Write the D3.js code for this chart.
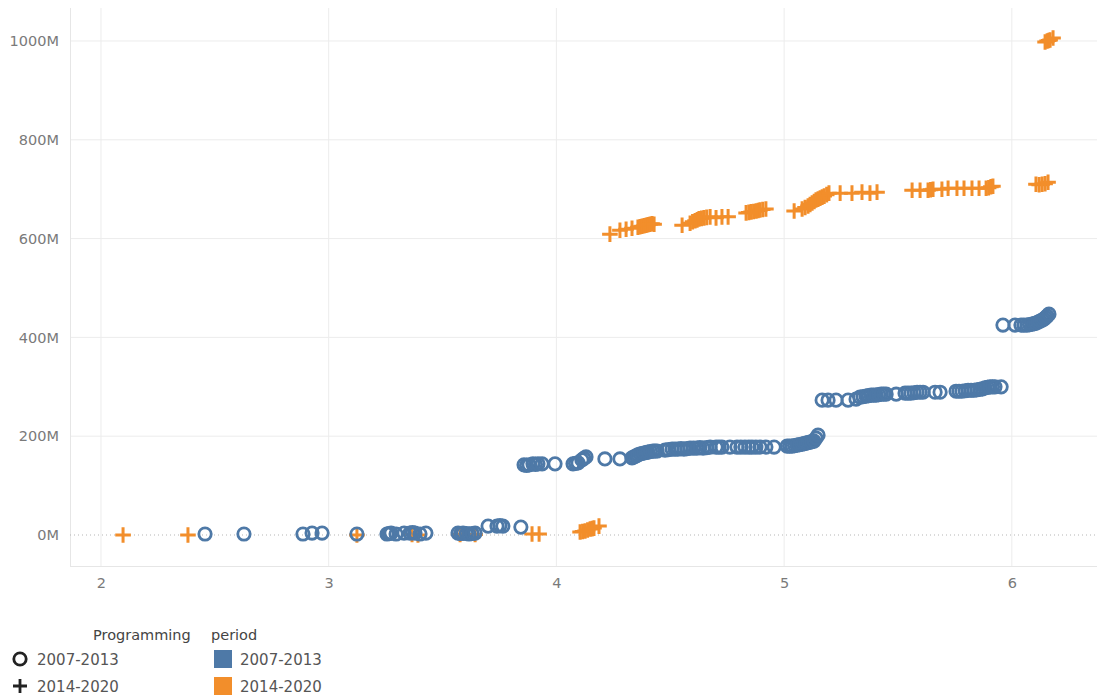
<!DOCTYPE html>
<html>
<head>
<meta charset="utf-8">
<script src="https://cdn.jsdelivr.net/npm/d3@7"></script>
<style>
  html, body { margin: 0; padding: 0; background: #fff; }
  svg { display: block; font-family: "DejaVu Sans", sans-serif; }
</style>
</head>
<body>
<svg id="chart" width="1097" height="699"></svg>
<script>
// ---- Data ----
// Programming period 2007-2013 (circle, blue): x value, y value in millions
const progA_x = [2.457, 2.628, 2.887, 2.927, 2.971, 3.124, 3.256, 3.265, 3.274, 3.296, 3.331, 3.357, 3.368, 3.379, 3.401, 3.427,
  3.568, 3.580, 3.590, 3.605, 3.616, 3.630, 3.643, 3.700, 3.739, 3.752, 3.765, 3.844,
  3.858, 3.869, 3.880, 3.897, 3.908, 3.919, 3.937, 3.994, 4.073, 4.084, 4.095, 4.112, 4.121, 4.130, 4.213, 4.279, 4.332, 4.341, 4.350, 4.358, 4.367, 4.376, 4.385,
  4.394, 4.402, 4.413, 4.424, 4.433, 4.442, 4.477, 4.492, 4.508, 4.521, 4.534, 4.547, 4.560, 4.574, 4.587, 4.602, 4.617, 4.630, 4.644, 4.660, 4.675, 4.701, 4.714, 4.727, 4.762, 4.793, 4.810, 4.828,
  4.845, 4.859, 4.876, 4.894, 4.920, 4.956, 5.013, 5.024, 5.035, 5.046, 5.057, 5.068, 5.079, 5.088, 5.096, 5.105, 5.114, 5.122, 5.131, 5.140, 5.149,
  5.167, 5.193, 5.228, 5.281, 5.316, 5.333, 5.347, 5.360, 5.371, 5.382, 5.393, 5.404, 5.415, 5.426, 5.437, 5.448, 5.492, 5.531, 5.544, 5.557, 5.571, 5.584, 5.597, 5.610,
  5.663, 5.685, 5.755, 5.768, 5.781, 5.795, 5.808, 5.821, 5.834, 5.847, 5.860, 5.871, 5.882, 5.893, 5.904, 5.915, 5.926, 5.953,
  5.961, 6.014, 6.040, 6.053, 6.067, 6.078, 6.089, 6.098, 6.106, 6.115, 6.124, 6.133, 6.141, 6.148, 6.155, 6.163];
const progA_y = [2, 2, 2, 4, 4, 2, 2, 3, 4, 2, 4, 4, 5, 4, 2, 4,
  4, 3, 4, 3, 2, 3, 4, 18, 18, 19, 18, 16,
  142, 141, 142, 144, 143, 144, 144, 144, 144, 145, 146, 152, 155, 158, 154, 154, 156, 158, 160, 162, 164, 165, 166,
  167, 168, 169, 170, 170, 170, 172, 173, 174, 174, 174, 175, 174, 175, 176, 176, 176, 177, 176, 177, 178, 178, 178, 178, 178, 178, 178, 178,
  178, 178, 178, 178, 178, 178, 180, 180, 180, 181, 182, 183, 184, 185, 186, 187, 188, 189, 190, 196, 202,
  273, 273, 273, 273, 275, 279, 280, 281, 282, 283, 283, 283, 284, 285, 285, 285, 285, 287, 287, 287, 288, 289, 289, 289,
  289, 289, 291, 291, 291, 292, 293, 293, 293, 294, 295, 296, 298, 299, 300, 300, 300, 300,
  425, 425, 425, 425, 425, 426, 427, 428, 429, 431, 433, 435, 437, 440, 443, 447];

// Programming period 2014-2020 (plus, orange)
const progB_x = [2.097, 2.382, 3.124, 3.366, 3.392, 3.577, 3.643, 3.893, 3.924, 4.104, 4.115, 4.126, 4.137, 4.148, 4.157, 4.165, 4.187,
  4.235, 4.279, 4.306, 4.332, 4.358, 4.367, 4.376, 4.385, 4.394, 4.402, 4.411, 4.420, 4.429, 4.552, 4.587, 4.598, 4.609, 4.618, 4.626, 4.637, 4.648, 4.660, 4.675, 4.701,
  4.727, 4.754, 4.833, 4.845, 4.855, 4.866, 4.877, 4.886, 4.894, 4.906, 4.920, 5.044, 5.079, 5.092, 5.105, 5.114, 5.123, 5.132, 5.140, 5.149, 5.158, 5.167, 5.176, 5.187, 5.197,
  5.246, 5.298, 5.342, 5.377, 5.408,
  5.562, 5.597, 5.632, 5.643, 5.654, 5.693, 5.720, 5.759, 5.790, 5.825, 5.856, 5.887, 5.898, 5.908, 5.917, 6.106, 6.120, 6.133, 6.146, 6.159,
  6.146, 6.155, 6.162, 6.168, 6.181];
const progB_y = [0, 0, 0, 1, 0, 1, 1, 2, 2, 6, 7, 8, 10, 12, 13, 14, 18,
  609, 617, 619, 621, 623, 624, 625, 626, 627, 628, 629, 630, 629, 627, 631, 634, 636, 638, 640, 641, 642, 643, 644, 642,
  644, 644, 652, 653, 654, 655, 656, 657, 658, 659, 660, 656, 660, 663, 666, 669, 672, 675, 678, 680, 682, 684, 686, 689, 692,
  692, 692, 694, 692, 694,
  698, 698, 698, 699, 700, 700, 702, 702, 702, 702, 702, 702, 703, 705, 706, 710, 709, 710, 711, 714,
  998, 1000, 1001, 1002, 1006];

const yTicks = [0, 200, 400, 600, 800, 1000];
const xTicks = [2, 3, 4, 5, 6];
const legendLabels = ["2007-2013", "2014-2020"];
const colors = ["#4e79a7", "#f28e2b"];

// ---- Layout ----
const svg = d3.select("#chart");
const padL = 70, padR = 1097, padT = 8, padB = 566;

const x = d3.scaleLinear().domain([1.864, 6.374]).range([padL, padR]);
const y = d3.scaleLinear().domain([-62.75, 1066.8]).range([padB, padT]);

// gridlines
const grid = svg.append("g");
grid.selectAll("line.v").data(xTicks).join("line")
  .attr("x1", d => x(d)).attr("x2", d => x(d)).attr("y1", padT).attr("y2", padB)
  .attr("stroke", "#ececec").attr("stroke-width", 1);
grid.selectAll("line.h").data(yTicks.filter(d => d !== 0)).join("line")
  .attr("x1", padL).attr("x2", padR).attr("y1", d => y(d)).attr("y2", d => y(d))
  .attr("stroke", "#ececec").attr("stroke-width", 1);
// pane border (left + bottom)
grid.append("line").attr("x1", padL + 0.5).attr("x2", padL + 0.5).attr("y1", padT).attr("y2", padB)
  .attr("stroke", "#e6e6e6");
grid.append("line").attr("x1", padL).attr("x2", padR).attr("y1", padB + 0.5).attr("y2", padB + 0.5)
  .attr("stroke", "#e6e6e6");
// zero line (dotted)
grid.append("line").attr("x1", padL).attr("x2", padR).attr("y1", y(0)).attr("y2", y(0))
  .attr("stroke", "#b5b5b5").attr("stroke-width", 1).attr("stroke-dasharray", "1,3");

// axes
const yAxis = svg.append("g").attr("transform", `translate(${padL - 11},0)`)
  .call(d3.axisLeft(y).tickValues(yTicks).tickSize(0).tickPadding(0).tickFormat(d => d + "M"));
const xAxis = svg.append("g").attr("transform", `translate(0,${padB + 9})`)
  .call(d3.axisBottom(x).tickValues(xTicks).tickSize(0).tickPadding(0).tickFormat(d3.format("d")));
[yAxis, xAxis].forEach(a => {
  a.select(".domain").remove();
  a.selectAll("text").attr("fill", "#7a7a7a").style("font-size", "14.5px").style("font-family", "DejaVu Sans, sans-serif");
});
xAxis.selectAll("text").attr("dy", "0.9em");

// marks
const dataB = progB_x.map((v, i) => ({ x: v, y: progB_y[i] }));
const dataA = progA_x.map((v, i) => ({ x: v, y: progA_y[i] }));

const plusPath = (s) => `M${-s},0H${s}M0,${-s}V${s}`;
svg.append("g").selectAll("path").data(dataB).join("path")
  .attr("transform", d => `translate(${x(d.x)},${y(d.y)})`)
  .attr("d", plusPath(7.8))
  .attr("fill", "none").attr("stroke", colors[1]).attr("stroke-width", 3);

svg.append("g").selectAll("circle").data(dataA).join("circle")
  .attr("cx", d => x(d.x)).attr("cy", d => y(d.y)).attr("r", 6.2)
  .attr("fill", "none").attr("stroke", colors[0]).attr("stroke-width", 2.8);

// legend
const lg = svg.append("g").style("font-family", "DejaVu Sans, sans-serif");
lg.append("text").attr("x", 93).attr("y", 640).text("Programming")
  .attr("fill", "#444").style("font-size", "14.5px").style("font-weight", "500");
lg.append("text").attr("x", 211).attr("y", 640).text("period")
  .attr("fill", "#444").style("font-size", "14.5px").style("font-weight", "500");

const rowsY = [659, 686];
lg.append("circle").attr("cx", 20).attr("cy", rowsY[0]).attr("r", 6.2)
  .attr("fill", "none").attr("stroke", "#222").attr("stroke-width", 2.8);
lg.append("path").attr("transform", `translate(20,${rowsY[1]})`).attr("d", plusPath(7))
  .attr("fill", "none").attr("stroke", "#222").attr("stroke-width", 2.8);
legendLabels.forEach((lab, i) => {
  lg.append("text").attr("x", 37).attr("y", rowsY[i] + 6).text(lab)
    .attr("fill", "#555").style("font-size", "15px");
  lg.append("rect").attr("x", 214).attr("y", rowsY[i] - 9).attr("width", 18).attr("height", 18)
    .attr("fill", colors[i]);
  lg.append("text").attr("x", 240).attr("y", rowsY[i] + 6).text(lab)
    .attr("fill", "#555").style("font-size", "15px");
});
</script>
</body>
</html>
